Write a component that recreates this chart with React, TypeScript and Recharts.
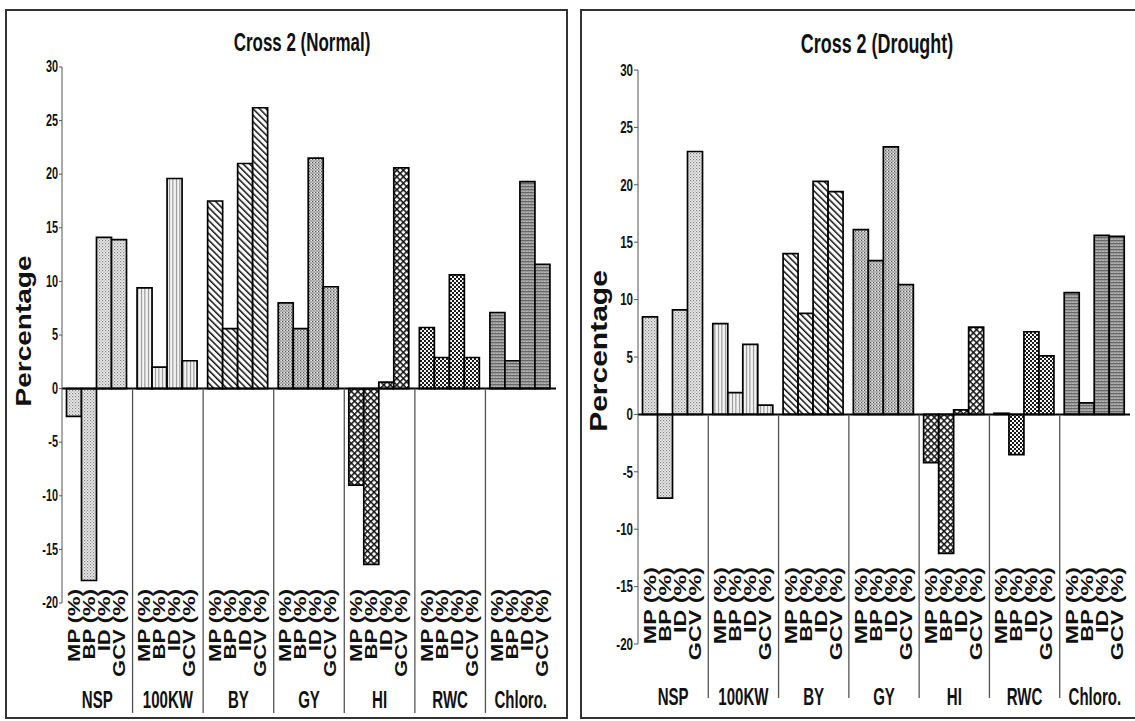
import React from 'react';
import { BarChart, Bar, XAxis, YAxis, Cell, ReferenceLine } from 'recharts';

// categories and series labels
const categories = ['NSP', '100KW', 'BY', 'GY', 'HI', 'RWC', 'Chloro.'];
const seriesNames = ['MP (%)', 'BP (%)', 'ID (%)', 'GCV (%)'];
const seriesKeys = ['mp', 'bp', 'id', 'gcv'];
const yTicks = [-20, -15, -10, -5, 0, 5, 10, 15, 20, 25, 30];

// Cross 2 (Normal)
const normalMP = [-2.6, 9.4, 17.5, 8.0, -9.0, 5.7, 7.1];
const normalBP = [-17.9, 2.0, 5.6, 5.6, -16.4, 2.9, 2.6];
const normalID = [14.1, 19.6, 21.0, 21.5, 0.6, 10.6, 19.3];
const normalGCV = [13.9, 2.6, 26.2, 9.5, 20.6, 2.9, 11.6];

// Cross 2 (Drought)
const droughtMP = [8.5, 7.9, 14.0, 16.1, -4.2, 0.1, 10.6];
const droughtBP = [-7.3, 1.9, 8.8, 13.4, -12.1, -3.5, 1.0];
const droughtID = [9.1, 6.1, 20.3, 23.3, 0.4, 7.2, 15.6];
const droughtGCV = [22.9, 0.8, 19.4, 11.3, 7.6, 5.1, 15.5];

const patternIds = ['nsp', 'kw', 'by', 'gy', 'hi', 'rwc', 'chl'];

const Y_MIN = -20;
const Y_MAX = 30;
const BAR_GAP = 4.5;
const FONT = '"Liberation Sans", Arial, Helvetica, sans-serif';
const SQUEEZE = 0.78;
const LABEL_SQUEEZE = 0.72;
const NARROW = 0.64;

const buildRows = (mp: number[], bp: number[], id: number[], gcv: number[]) =>
  categories.map((name, i) => ({ name, mp: mp[i], bp: bp[i], id: id[i], gcv: gcv[i] }));

type Geo = {
  left: number;
  width: number;
  plotTop: number;
  plotBottom: number;
  yAxisWidth: number;
  rightMargin: number;
  xAxisHeight: number;
  tickSize: number;
  labelTop: number;
  labelSize: number;
  nameBase: number;
  nameSize: number;
  sepEnd: number;
};

const Patterns = ({ p }: { p: string }) => (
  <defs>
    <pattern id={`${p}-nsp`} width={3} height={3} patternUnits="userSpaceOnUse">
      <rect width={3} height={3} fill="#ececec" />
      <rect x={0} y={0} width={1.2} height={1.2} fill="#808080" />
      <rect x={1.5} y={1.5} width={1.2} height={1.2} fill="#a0a0a0" />
    </pattern>
    <pattern id={`${p}-kw`} width={3.5} height={4} patternUnits="userSpaceOnUse">
      <rect width={3.5} height={4} fill="#f4f4f4" />
      <rect x={1} y={0} width={0.9} height={4} fill="#7a7a7a" />
    </pattern>
    <pattern id={`${p}-by`} width={4.6} height={4.6} patternUnits="userSpaceOnUse" patternTransform="rotate(-45)">
      <rect width={4.6} height={4.6} fill="#ffffff" />
      <rect x={0} y={0} width={1.5} height={4.6} fill="#111" />
    </pattern>
    <pattern id={`${p}-gy`} width={3} height={3} patternUnits="userSpaceOnUse">
      <rect width={3} height={3} fill="#bdbdbd" />
      <rect x={0} y={0} width={1} height={1} fill="#555" />
      <rect x={1.5} y={1.5} width={1} height={1} fill="#707070" />
      <rect x={2} y={0} width={1} height={1} fill="#eee" />
    </pattern>
    <pattern id={`${p}-hi`} width={4.6} height={4.6} patternUnits="userSpaceOnUse" patternTransform="rotate(45)">
      <rect width={4.6} height={4.6} fill="#ffffff" />
      <rect x={0} y={0} width={1.5} height={4.6} fill="#111" />
      <rect x={0} y={0} width={4.6} height={1.5} fill="#111" />
    </pattern>
    <pattern id={`${p}-rwc`} width={4} height={4} patternUnits="userSpaceOnUse">
      <rect width={4} height={4} fill="#f6f6f6" />
      <rect x={0} y={0} width={2} height={2} fill="#1a1a1a" />
      <rect x={2} y={2} width={2} height={2} fill="#1a1a1a" />
    </pattern>
    <pattern id={`${p}-chl`} width={3} height={3} patternUnits="userSpaceOnUse">
      <rect width={3} height={3} fill="#979797" />
      <rect x={0} y={0} width={3} height={1} fill="#686868" />
      <rect x={1.5} y={2} width={1} height={1} fill="#cfcfcf" />
    </pattern>
  </defs>
);

const CatTick = (props: any) => {
  const { x, y, index, payload, geo } = props;
  const plotLeft = geo.yAxisWidth;
  const plotRight = geo.width - geo.rightMargin;
  const bw = (plotRight - plotLeft) / categories.length;
  const barW = Math.floor((bw - 2 * BAR_GAP) / seriesNames.length);
  const left = x - bw / 2;
  const zeroY = geo.plotTop + ((geo.plotBottom - geo.plotTop) * Y_MAX) / (Y_MAX - Y_MIN);
  const thick = 0.716 * geo.labelSize * LABEL_SQUEEZE;
  return (
    <g>
      {index > 0 && (
        <line x1={left} x2={left} y1={zeroY} y2={y + geo.sepEnd} stroke="#555" strokeWidth={1.3} />
      )}
      {seriesNames.map((s, i) => {
        const cx = left + BAR_GAP + barW * (i + 0.5);
        return (
          <text
            key={s}
            transform={`translate(${cx + thick / 2} ${y + geo.labelTop}) scale(${LABEL_SQUEEZE} 1) rotate(-90)`}
            textAnchor="end"
            fontFamily={FONT}
            fontWeight={700}
            fontSize={geo.labelSize}
            fill="#111"
          >
            {s}
          </text>
        );
      })}
      <text
        transform={`translate(${x} ${y + geo.nameBase}) scale(${NARROW} 1)`}
        textAnchor="middle"
        fontFamily={FONT}
        fontWeight={700}
        fontSize={geo.nameSize}
        fill="#111"
      >
        {payload.value}
      </text>
    </g>
  );
};

const YTick = (props: any) => {
  const { x, y, payload, size } = props;
  return (
    <text
      transform={`translate(${x} ${y}) scale(0.68 1)`}
      textAnchor="end"
      dominantBaseline="central"
      fontFamily={FONT}
      fontWeight={700}
      fontSize={size}
      fill="#111"
    >
      {payload.value}
    </text>
  );
};

const Panel = ({ id, rows, geo, tickFont }: { id: string; rows: any[]; geo: Geo; tickFont: number }) => (
  <div style={{ position: 'absolute', left: geo.left, top: 0 }}>
    <BarChart
      width={geo.width}
      height={721}
      data={rows}
      barGap={0}
      barCategoryGap={BAR_GAP}
      margin={{ top: geo.plotTop, right: geo.rightMargin, left: 0, bottom: 721 - geo.plotBottom - geo.xAxisHeight }}
    >
      <Patterns p={id} />
      <XAxis
        dataKey="name"
        type="category"
        interval={0}
        axisLine={false}
        tickLine={false}
        tickSize={0}
        tickMargin={0}
        height={geo.xAxisHeight}
        tick={(p: any) => <CatTick {...p} geo={geo} />}
      />
      <YAxis
        type="number"
        domain={[Y_MIN, Y_MAX]}
        ticks={yTicks}
        interval={0}
        width={geo.yAxisWidth}
        axisLine={{ stroke: '#555', strokeWidth: 1 }}
        tickLine={{ stroke: '#555', strokeWidth: 1 }}
        tickSize={geo.tickSize}
        tickMargin={1}
        tick={(p: any) => <YTick {...p} size={tickFont} />}
      />
      {seriesKeys.map((k) => (
        <Bar key={k} dataKey={k} isAnimationActive={false} stroke="#000" strokeWidth={1.7}>
          {rows.map((_r, ci) => (
            <Cell key={ci} fill={`url(#${id}-${patternIds[ci]})`} />
          ))}
        </Bar>
      ))}
      <ReferenceLine y={0} stroke="#000" strokeWidth={2} />
    </BarChart>
  </div>
);

const leftGeo: Geo = {
  left: 0,
  width: 570,
  plotTop: 67,
  plotBottom: 603,
  yAxisWidth: 62,
  rightMargin: 14,
  xAxisHeight: 110,
  tickSize: 3,
  labelTop: -14,
  labelSize: 22,
  nameBase: 105,
  nameSize: 23.5,
  sepEnd: 110,
};

const rightGeo: Geo = {
  left: 570,
  width: 565,
  plotTop: 70,
  plotBottom: 644,
  yAxisWidth: 68,
  rightMargin: 5,
  xAxisHeight: 70,
  tickSize: 4,
  labelTop: -77,
  labelSize: 23.3,
  nameBase: 61,
  nameSize: 23.5,
  sepEnd: 54,
};

const normalRows = buildRows(normalMP, normalBP, normalID, normalGCV);
const droughtRows = buildRows(droughtMP, droughtBP, droughtID, droughtGCV);

export default function App() {
  return (
    <div
      style={{
        position: 'absolute',
        left: 0,
        top: 0,
        width: 1135,
        height: 721,
        overflow: 'hidden',
        background: '#fff',
      }}
    >
      <div style={{ position: 'absolute', left: 5, top: 9, width: 563, height: 710, border: '2px solid #333', boxSizing: 'border-box' }} />
      <div style={{ position: 'absolute', left: 580, top: 9, width: 580, height: 710, border: '2px solid #333', boxSizing: 'border-box' }} />
      <Panel id="n" rows={normalRows} geo={leftGeo} tickFont={16} />
      <Panel id="d" rows={droughtRows} geo={rightGeo} tickFont={17} />
      <svg width={1135} height={721} style={{ position: 'absolute', left: 0, top: 0, pointerEvents: 'none' }}>
        <text transform={`translate(302 51) scale(${NARROW} 1)`} textAnchor="middle" fontFamily={FONT} fontWeight={700} fontSize={26.5} fill="#111">
          Cross 2 (Normal)
        </text>
        <text transform={`translate(877 53) scale(${NARROW} 1)`} textAnchor="middle" fontFamily={FONT} fontWeight={700} fontSize={28} fill="#111">
          Cross 2 (Drought)
        </text>
        <text transform={`translate(31 331) scale(${SQUEEZE} 1) rotate(-90)`} textAnchor="middle" fontFamily={FONT} fontWeight={700} fontSize={28} fill="#111">
          Percentage
        </text>
        <text transform={`translate(607 351) scale(${SQUEEZE} 1) rotate(-90)`} textAnchor="middle" fontFamily={FONT} fontWeight={700} fontSize={30} fill="#111">
          Percentage
        </text>
      </svg>
    </div>
  );
}
